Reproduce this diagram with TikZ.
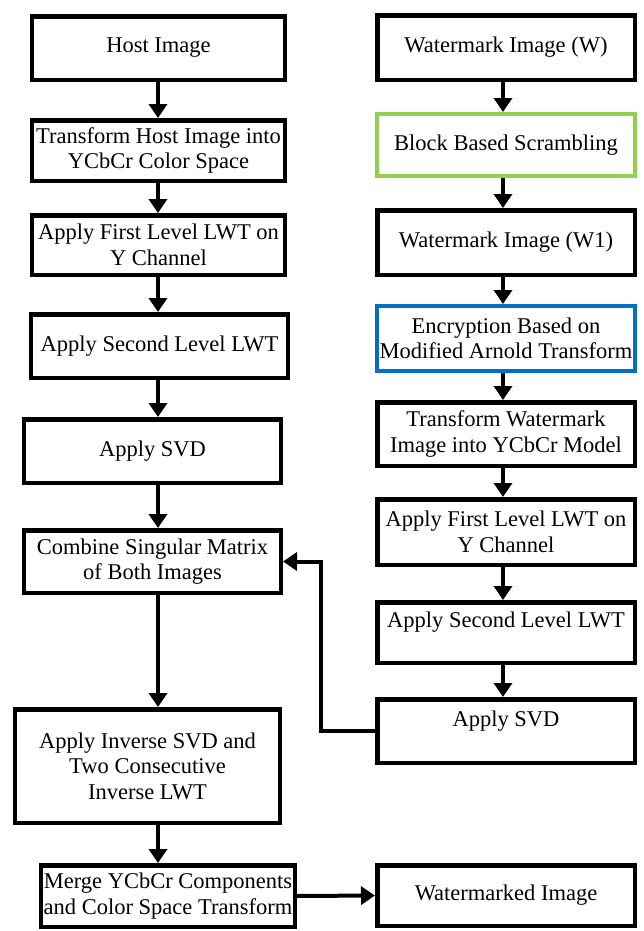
\documentclass[tikz,border=0pt]{standalone}
\usepackage{fontspec}
\setmainfont{Liberation Serif}
\newfontfamily\boxfont{Liberation Serif}
\usetikzlibrary{arrows.meta}
\definecolor{boxgreen}{HTML}{92D050}
\definecolor{boxblue}{HTML}{0070C0}
\tikzset{
  box/.style={draw=black, line width=4.5bp, inner sep=0pt, align=center, fill=white,
    font=\boxfont\fontsize{22.5bp}{25.5bp}\selectfont},
  arr/.style={line width=4bp, -{Triangle[length=14bp,width=18bp]}},
}
\begin{document}
\begin{tikzpicture}[x=1bp,y=-1bp]
\path[use as bounding box, fill=white] (0,0) rectangle (644,931);
% left column
\node[box, minimum width=252.5bp, minimum height=63.5bp] (L1) at (158.5,48) {Host Image};
\node[box, minimum width=252.5bp, minimum height=60.5bp] (L2) at (158.5,150.5) {Transform Host Image into\\YCbCr Color Space};
\node[box, minimum width=252.5bp, minimum height=59.5bp] (L3) at (158.5,245) {Apply First Level LWT on\\Y Channel};
\node[box, minimum width=256.5bp, minimum height=63.5bp] (L4) at (159.5,346) {Apply Second Level LWT};
\node[box, minimum width=256.5bp, minimum height=63.5bp] (L5) at (152.5,451) {Apply SVD};
\node[box, minimum width=256.5bp, minimum height=62.5bp] (L6) at (152.5,561.5) {Combine Singular Matrix\\of Both Images};
\node[box, minimum width=264.5bp, minimum height=113.5bp] (L7) at (147.5,766) {Apply Inverse SVD and\\Two Consecutive\\Inverse LWT};
\node[box, minimum width=253.5bp, minimum height=61.5bp] (L8) at (168,896) {Merge YCbCr Components\\and Color Space Transform};
% right column
\node[box, minimum width=257.5bp, minimum height=64.5bp] (R1) at (506,47.5) {Watermark Image (W)};
\node[box, draw=boxgreen, line width=4bp, minimum width=258bp, minimum height=62bp] (R2) at (506,145) {Block Based Scrambling};
\node[box, minimum width=257.5bp, minimum height=64.5bp] (R3) at (506,242.5) {Watermark Image (W1)};
\node[box, draw=boxblue, line width=4bp, minimum width=258bp, minimum height=65bp] (R4) at (506,338.5) {Encryption Based on\\Modified Arnold Transform};
\node[box, minimum width=257.5bp, minimum height=63.5bp] (R5) at (506,434) {Transform Watermark\\Image into YCbCr Model};
\node[box, minimum width=257.5bp, minimum height=65.5bp] (R6) at (506,532) {Apply First Level LWT on\\Y Channel};
\node[box, minimum width=257.5bp, minimum height=60.5bp] (R7) at (506,632.5) {Apply Second Level LWT\\\mbox{}};
\node[box, minimum width=257.5bp, minimum height=63.5bp] (R8) at (506,731) {Apply SVD\\\mbox{}};
\node[box, minimum width=257.5bp, minimum height=60.5bp] (R9) at (506,895.5) {Watermarked Image};
% arrows left
\coordinate (lx) at (158,0);
\coordinate (rx) at (503,0);
\coordinate (kx) at (321,0);
\draw[arr] (L1.south -| lx) -- (L2.north -| lx);
\draw[arr] (L2.south -| lx) -- (L3.north -| lx);
\draw[arr] (L3.south -| lx) -- (L4.north -| lx);
\draw[arr] (L4.south -| lx) -- (L5.north -| lx);
\draw[arr] (L5.south -| lx) -- (L6.north -| lx);
\draw[arr] (L6.south -| lx) -- (L7.north -| lx);
\draw[arr] (L7.south -| lx) -- (L8.north -| lx);
% arrows right
\draw[arr] (R1.south -| rx) -- (R2.north -| rx);
\draw[arr] (R2.south -| rx) -- (R3.north -| rx);
\draw[arr] (R3.south -| rx) -- (R4.north -| rx);
\draw[arr] (R4.south -| rx) -- (R5.north -| rx);
\draw[arr] (R5.south -| rx) -- (R6.north -| rx);
\draw[arr] (R6.south -| rx) -- (R7.north -| rx);
\draw[arr] (R7.south -| rx) -- (R8.north -| rx);
% cross connectors
\draw[arr] (R8.west) -- (R8.west -| kx) |- (L6.east);
\draw[arr] (L8.east) -- (R9.west);
\end{tikzpicture}
\end{document}
